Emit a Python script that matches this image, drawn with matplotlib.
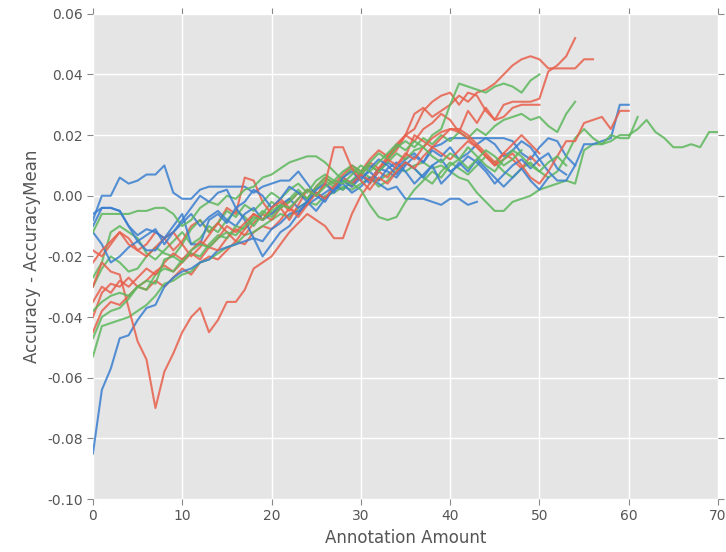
import matplotlib
matplotlib.use("Agg")
import matplotlib.pyplot as plt

# accuracy minus mean accuracy per run, indexed by annotation amount (0, 1, 2, ...)
red_runs = [
    [-0.045, -0.038, -0.035, -0.036, -0.033, -0.030, -0.031, -0.028, -0.030, -0.027,
     -0.024, -0.026, -0.022, -0.020, -0.021, -0.018, -0.015, -0.016, -0.012, -0.010,
     -0.011, -0.008, -0.004, -0.006, -0.002, 0.001, -0.001, 0.003, 0.005, 0.003,
     0.007, 0.010, 0.008, 0.012, 0.015, 0.020, 0.027, 0.029, 0.026, 0.028,
     0.030, 0.033, 0.031, 0.034, 0.035, 0.037, 0.040, 0.043, 0.045, 0.046,
     0.045, 0.042, 0.042, 0.042, 0.042, 0.045, 0.045],
    [-0.040, -0.032, -0.029, -0.030, -0.027, -0.030, -0.028, -0.025, -0.023, -0.025,
     -0.022, -0.019, -0.021, -0.017, -0.018, -0.014, -0.011, -0.013, -0.009, -0.006,
     -0.008, -0.004, -0.002, 0.001, -0.001, 0.003, 0.006, 0.004, 0.007, 0.010,
     0.008, 0.012, 0.015, 0.013, 0.017, 0.020, 0.018, 0.022, 0.024, 0.027,
     0.025, 0.021, 0.028, 0.024, 0.029, 0.025, 0.030, 0.031, 0.031, 0.031,
     0.032, 0.041, 0.043, 0.046, 0.052],
    [-0.018, -0.020, -0.016, -0.012, -0.014, -0.018, -0.016, -0.012, -0.014, -0.018,
     -0.015, -0.010, -0.008, -0.012, -0.009, -0.004, -0.006, 0.006, 0.005, -0.002,
     -0.006, -0.004, -0.008, -0.003, 0.002, 0.000, 0.004, 0.002, 0.006, 0.009,
     0.007, 0.011, 0.009, 0.013, 0.016, 0.020, 0.022, 0.028, 0.031, 0.033,
     0.034, 0.030, 0.034, 0.033, 0.028, 0.025, 0.026, 0.029, 0.030, 0.030,
     0.030],
    [-0.030, -0.022, -0.025, -0.026, -0.037, -0.048, -0.054, -0.070, -0.058, -0.052,
     -0.045, -0.040, -0.037, -0.045, -0.041, -0.035, -0.035, -0.031, -0.024, -0.022,
     -0.020, -0.016, -0.012, -0.009, -0.006, -0.008, -0.010, -0.014, -0.014, -0.006,
     0.000, 0.004, 0.008, 0.006, 0.010, 0.013, 0.020, 0.018, 0.016, 0.019,
     0.022, 0.022, 0.020, 0.017, 0.014, 0.011, 0.014, 0.012, 0.009, 0.013,
     0.010],
    [-0.022, -0.018, -0.015, -0.012, -0.016, -0.018, -0.020, -0.017, -0.014, -0.012,
     -0.016, -0.020, -0.017, -0.013, -0.009, -0.012, -0.015, -0.011, -0.006, -0.008,
     -0.004, -0.001, -0.004, -0.007, -0.003, 0.001, -0.001, 0.003, 0.006, 0.004,
     0.007, 0.005, 0.009, 0.012, 0.010, 0.014, 0.012, 0.016, 0.019, 0.021,
     0.022, 0.021, 0.019, 0.016, 0.013, 0.010, 0.012, 0.014, 0.010, 0.006,
     0.004, 0.008, 0.013, 0.018, 0.018, 0.024, 0.025, 0.026, 0.022, 0.028,
     0.028],
    [-0.035, -0.030, -0.032, -0.028, -0.030, -0.027, -0.024, -0.026, -0.022, -0.019,
     -0.021, -0.018, -0.015, -0.017, -0.014, -0.010, -0.012, -0.009, -0.006, -0.008,
     -0.004, -0.002, -0.005, -0.001, 0.002, 0.000, 0.004, 0.016, 0.016, 0.009,
     0.005, 0.002, 0.006, 0.004, 0.008, 0.011, 0.009, 0.013, 0.016, 0.014,
     0.012, 0.015, 0.018, 0.016, 0.013, 0.010, 0.014, 0.017, 0.020, 0.017,
     0.014],
]

green_runs = [
    [-0.053, -0.043, -0.042, -0.041, -0.040, -0.038, -0.036, -0.033, -0.029, -0.028,
     -0.026, -0.025, -0.022, -0.021, -0.019, -0.017, -0.016, -0.013, -0.012, -0.010,
     -0.008, -0.006, -0.007, -0.004, -0.002, -0.003, 0.000, 0.001, 0.003, 0.002,
     0.004, 0.006, 0.005, 0.007, 0.009, 0.008, 0.010, 0.011, 0.009, 0.010,
     0.008, 0.006, 0.005, 0.001, -0.002, -0.005, -0.005, -0.002, -0.001, 0.000,
     0.002, 0.003, 0.004, 0.005, 0.004, 0.015, 0.017, 0.017, 0.018, 0.020,
     0.020, 0.022, 0.025, 0.021, 0.019, 0.016, 0.016, 0.017, 0.016, 0.021,
     0.021],
    [-0.027, -0.022, -0.012, -0.010, -0.012, -0.014, -0.019, -0.021, -0.018, -0.015,
     -0.012, -0.016, -0.014, -0.010, -0.012, -0.008, -0.005, -0.007, -0.010, -0.006,
     -0.002, -0.004, -0.001, 0.002, -0.001, 0.003, 0.006, 0.004, 0.002, 0.005,
     0.008, 0.006, 0.003, 0.005, 0.008, 0.011, 0.009, 0.006, 0.004, 0.008,
     0.011, 0.009, 0.007, 0.010, 0.013, 0.011, 0.008, 0.006, 0.009, 0.011,
     0.008, 0.006, 0.008, 0.013, 0.019, 0.022, 0.019, 0.017, 0.020, 0.019,
     0.019, 0.026],
    [-0.030, -0.024, -0.020, -0.022, -0.025, -0.024, -0.020, -0.017, -0.019, -0.020,
     -0.016, -0.011, -0.008, -0.012, -0.009, -0.005, -0.007, -0.003, -0.005, -0.002,
     0.001, -0.001, 0.002, 0.004, 0.001, 0.005, 0.007, 0.005, 0.008, 0.010,
     0.008, 0.011, 0.014, 0.012, 0.016, 0.018, 0.016, 0.019, 0.017, 0.020,
     0.018, 0.021, 0.019, 0.022, 0.020, 0.023, 0.025, 0.026, 0.027, 0.025,
     0.026, 0.023, 0.021, 0.027, 0.031],
    [-0.047, -0.040, -0.038, -0.037, -0.034, -0.030, -0.031, -0.026, -0.024, -0.025,
     -0.021, -0.019, -0.020, -0.016, -0.013, -0.014, -0.010, -0.011, -0.008, -0.005,
     -0.007, -0.004, -0.002, 0.001, -0.001, 0.002, 0.005, 0.003, 0.006, 0.009,
     0.007, 0.010, 0.008, 0.011, 0.014, 0.012, 0.015, 0.016, 0.020, 0.022,
     0.030, 0.037, 0.036, 0.035, 0.034, 0.036, 0.037, 0.036, 0.034, 0.038,
     0.040],
    [-0.012, -0.006, -0.006, -0.006, -0.006, -0.005, -0.005, -0.004, -0.004, -0.006,
     -0.010, -0.008, -0.004, -0.002, -0.003, 0.000, -0.001, 0.002, 0.003, 0.006,
     0.007, 0.009, 0.011, 0.012, 0.013, 0.013, 0.011, 0.008, 0.005, 0.004,
     0.002, -0.003, -0.007, -0.008, -0.007, -0.002, 0.002, 0.005, 0.008, 0.006,
     0.010, 0.012, 0.016, 0.013, 0.010, 0.008, 0.012, 0.015, 0.013, 0.010,
     0.008, 0.011, 0.013, 0.010],
    [-0.038, -0.035, -0.033, -0.032, -0.033, -0.030, -0.028, -0.029, -0.021, -0.020,
     -0.022, -0.018, -0.016, -0.017, -0.014, -0.012, -0.013, -0.010, -0.007, -0.008,
     -0.005, -0.003, -0.004, -0.001, 0.002, 0.000, 0.003, 0.005, 0.004, 0.007,
     0.010, 0.008, 0.011, 0.014, 0.017, 0.015, 0.018, 0.016, 0.013, 0.011,
     0.014, 0.012, 0.009, 0.012, 0.015, 0.013, 0.010, 0.012, 0.015],
]

blue_runs = [
    [-0.085, -0.064, -0.057, -0.047, -0.046, -0.041, -0.037, -0.036, -0.030, -0.027,
     -0.025, -0.024, -0.022, -0.021, -0.018, -0.017, -0.016, -0.015, -0.014, -0.015,
     -0.011, -0.009, -0.006, -0.005, -0.003, -0.001, 0.001, 0.003, 0.002, 0.005,
     0.007, 0.004, 0.008, 0.011, 0.009, 0.012, 0.014, 0.011, 0.016, 0.017,
     0.019, 0.019, 0.019, 0.019, 0.019, 0.019, 0.019, 0.018, 0.014, 0.012,
     0.016, 0.019, 0.018, 0.013, 0.010, 0.017, 0.017, 0.018, 0.019, 0.030,
     0.030],
    [-0.008, 0.000, 0.000, 0.006, 0.004, 0.005, 0.007, 0.007, 0.010, 0.001,
     -0.001, -0.001, 0.002, 0.003, 0.003, 0.003, 0.003, 0.003, 0.001, 0.003,
     0.004, 0.005, 0.005, 0.008, 0.004, 0.000, -0.002, 0.003, 0.006, 0.004,
     0.007, 0.005, 0.009, 0.008, 0.006, 0.010, 0.013, 0.011, 0.015, 0.013,
     0.016, 0.012, 0.014, 0.017, 0.019, 0.017, 0.013, 0.015, 0.018, 0.016,
     0.012, 0.014, 0.009, 0.007],
    [-0.012, -0.016, -0.022, -0.020, -0.017, -0.015, -0.013, -0.011, -0.016, -0.012,
     -0.009, -0.006, -0.010, -0.007, -0.005, -0.008, -0.010, -0.006, -0.004, -0.008,
     -0.006, -0.003, -0.001, -0.004, -0.002, 0.001, -0.001, 0.002, 0.004, 0.001,
     0.003, 0.006, 0.004, 0.002, 0.003, -0.001, -0.001, -0.001, -0.002, -0.003,
     -0.001, -0.001, -0.003, -0.002],
    [-0.010, -0.004, -0.004, -0.005, -0.010, -0.013, -0.011, -0.012, -0.014, -0.010,
     -0.006, -0.016, -0.016, -0.008, -0.006, -0.009, -0.004, -0.008, -0.014, -0.020,
     -0.016, -0.012, -0.010, -0.006, -0.002, -0.005, -0.001, 0.002, 0.005, 0.003,
     0.006, 0.008, 0.005, 0.009, 0.011, 0.008, 0.004, 0.007, 0.010, 0.012,
     0.008, 0.010, 0.013, 0.011, 0.008, 0.004, 0.007, 0.010, 0.012, 0.009,
     0.012, 0.008, 0.005, 0.005, 0.010],
    [-0.006, -0.004, -0.004, -0.005, -0.010, -0.015, -0.018, -0.018, -0.014, -0.012,
     -0.008, -0.004, 0.000, -0.002, 0.001, 0.002, -0.004, -0.002, 0.002, 0.000,
     -0.004, -0.001, 0.003, 0.001, -0.002, 0.002, 0.004, 0.001, 0.006, 0.008,
     0.005, 0.009, 0.012, 0.010, 0.007, 0.011, 0.009, 0.006, 0.010, 0.004,
     0.007, 0.011, 0.008, 0.012, 0.009, 0.006, 0.003, 0.006, 0.009, 0.005,
     0.002, 0.006],
]

run_colors = {"red": "#E8604C", "green": "#5DB85D", "blue": "#3A7FD0"}

fig = plt.figure(figsize=(7.26, 5.52), dpi=100)
ax = fig.add_axes([0.128, 0.096, 0.861, 0.879])
ax.set_facecolor("#E5E5E5")
for s in ax.spines.values():
    s.set_visible(False)
ax.grid(True, color="white", linewidth=1.0)
ax.set_axisbelow(True)

groups = [("red", red_runs), ("green", green_runs), ("blue", blue_runs)]
for i in range(max(len(g[1]) for g in groups)):
    for name, runs in groups:
        if i < len(runs):
            vals = runs[i]
            ax.plot(range(len(vals)), vals, color=run_colors[name], lw=1.5, alpha=0.85)

ax.set_xlim(0, 70)
ax.set_ylim(-0.10, 0.06)
ax.set_xticks(range(0, 71, 10))
ax.set_yticks([-0.10, -0.08, -0.06, -0.04, -0.02, 0.00, 0.02, 0.04, 0.06])
ax.yaxis.set_major_formatter(matplotlib.ticker.FormatStrFormatter("%.2f"))
ax.tick_params(direction="out", top=True, right=True, length=4, color="#888888",
               labelcolor="#555555", labelsize=10)
ax.set_xlabel("Annotation Amount", fontsize=12, color="#555555")
ax.set_ylabel("Accuracy - AccuracyMean", fontsize=12, color="#555555")

fig.savefig("out.png", dpi=100)
